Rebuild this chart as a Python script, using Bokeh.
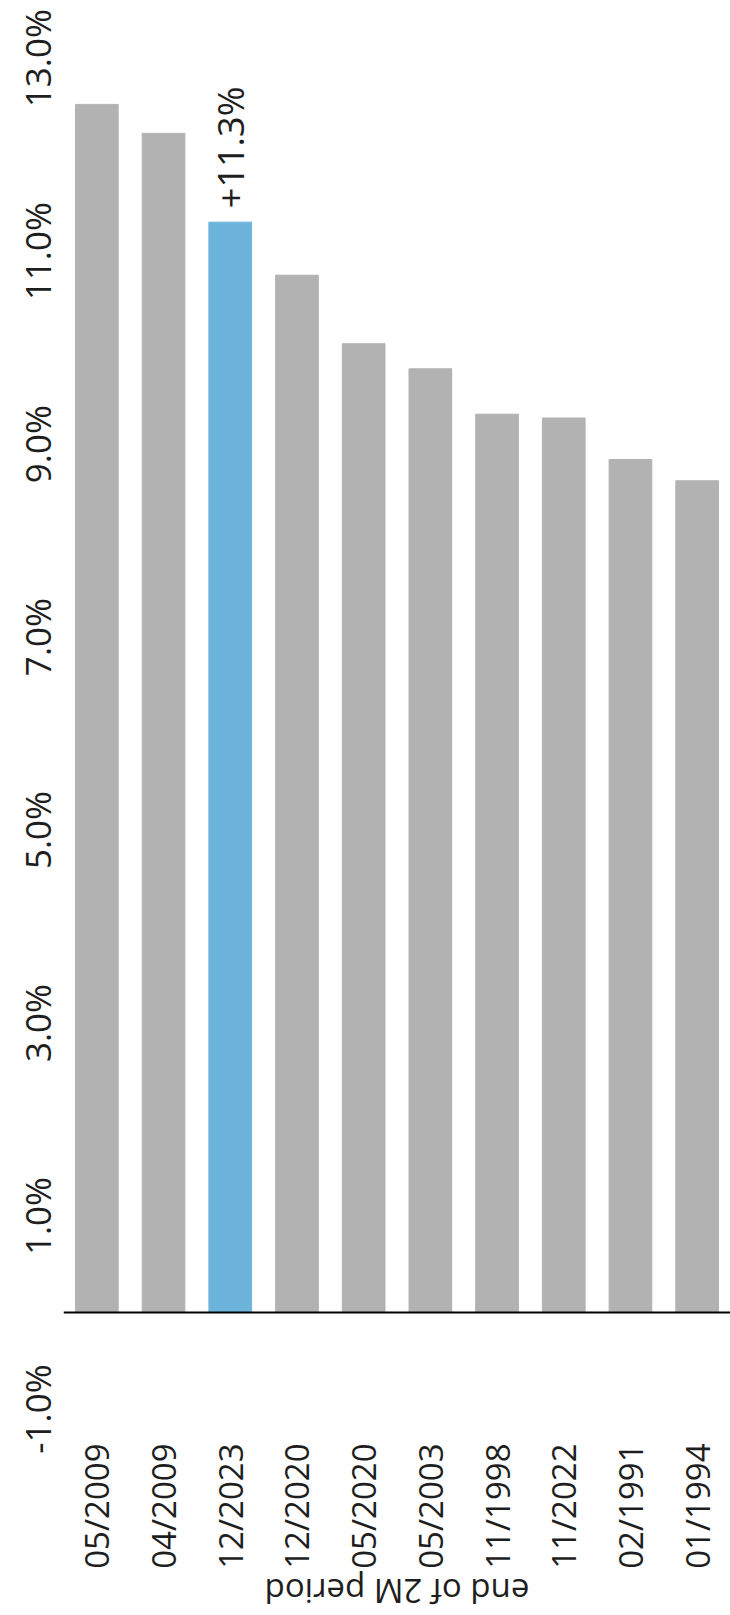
import math
from bokeh.plotting import figure
from bokeh.models import (ColumnDataSource, FactorRange, Range1d, FixedTicker,
                          PrintfTickFormatter, Span, Label)
from bokeh.core.properties import value
from bokeh.embed import file_html
from bokeh.resources import INLINE

# ---- data ----
categories = ["05/2009", "04/2009", "12/2023", "12/2020", "05/2020",
              "05/2003", "11/1998", "11/2022", "02/1991", "01/1994"]
growth = [12.52, 12.22, 11.30, 10.75, 10.04, 9.78, 9.31, 9.27, 8.84, 8.62]
highlight = "12/2023"
y_ticks = [-1, 1, 3, 5, 7, 9, 11, 13]
x_title = "end of 2M period"

GRAY = "#b2b2b2"
BLUE = "#6db4dd"
TXT = "#1e1e1e"
FONT = "Open Sans"

colors = [BLUE if c == highlight else GRAY for c in categories]
src = ColumnDataSource(dict(cat=categories, val=growth, color=colors))

hi_idx = categories.index(highlight)
lab_src = ColumnDataSource(dict(cat=[highlight], val=[growth[hi_idx]],
                                txt=["+%.1f%%" % growth[hi_idx]]))

# frame spans the canvas down to the bottom; the category axis is drawn at a
# fixed level below the bars so that the flipped title fits under it
Y_MIN, Y_MAX = -3.14, 13.514
AXIS_LEVEL = -1.067

p = figure(width=730, height=1615, output_backend="svg", toolbar_location=None,
           x_range=FactorRange(*categories), y_range=Range1d(Y_MIN, Y_MAX),
           min_border_left=63, min_border_right=0, min_border_top=8,
           min_border_bottom=0)
p.outline_line_color = None
p.xgrid.visible = False
p.ygrid.visible = False

p.vbar(x="cat", top="val", width=0.64, color="color", source=src)

p.add_layout(Span(location=0, dimension="width", line_color="#000000",
                  line_width=2))

p.text(x="cat", y="val", text="txt", source=lab_src, angle=math.pi / 2,
       text_align="left", text_baseline="middle", y_offset=-14,
       text_font=value(FONT), text_font_size="36px", text_color=TXT)

# y axis
ya = p.yaxis[0]
ya.ticker = FixedTicker(ticks=y_ticks)
ya.formatter = PrintfTickFormatter(format="%.1f%%")
ya.major_label_orientation = "vertical"
ya.axis_line_color = None
ya.major_tick_line_color = None
ya.minor_tick_line_color = None
ya.major_tick_out = 0
ya.minor_tick_out = 0
ya.major_label_standoff = 2
ya.major_label_text_font = FONT
ya.major_label_text_font_size = "35px"
ya.major_label_text_color = TXT

# x axis
xa = p.xaxis[0]
xa.fixed_location = AXIS_LEVEL
xa.major_label_orientation = math.pi / 2
xa.axis_line_color = None
xa.major_tick_line_color = None
xa.minor_tick_line_color = None
xa.major_tick_out = 0
xa.minor_tick_out = 0
xa.major_label_standoff = 28
xa.major_label_text_font = FONT
xa.major_label_text_font_size = "33px"
xa.major_label_text_color = TXT

p.add_layout(Label(x=len(categories) / 2, y=-2.89, text=x_title,
                   angle=math.pi, text_align="center",
                   text_baseline="middle", text_font=FONT,
                   text_font_size="33px", text_color=TXT))

open("out.html", "w").write(file_html(p, INLINE))
